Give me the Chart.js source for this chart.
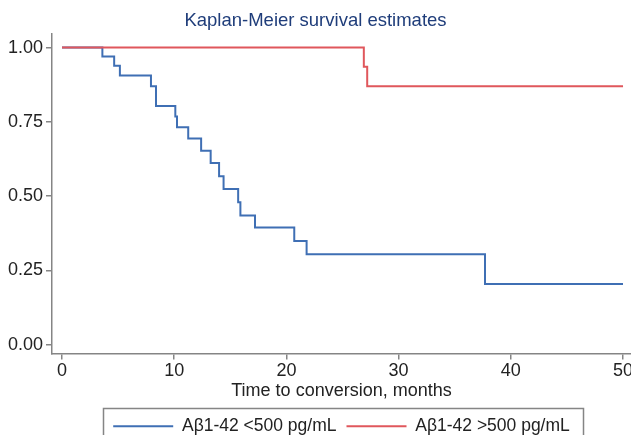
<!DOCTYPE html>
<html>
<head>
<meta charset="utf-8">
<script src="https://cdn.jsdelivr.net/npm/chart.js@4"></script>
<style>
  html, body { margin: 0; padding: 0; background: #fff; }
  #wrap { width: 631px; height: 435px; }
</style>
</head>
<body>
<div id="wrap"><canvas id="km" width="631" height="435"></canvas></div>
<script>
// Kaplan-Meier steps: time of each event (months) and survival after it
var low_time = [0, 3.6, 4.65, 5.16, 7.93, 8.38, 10.1, 10.25, 11.25, 12.4, 13.25, 14.0, 14.4, 15.7, 15.9, 17.2, 20.7, 21.8, 37.7, 50];
var low_surv = [1.0, 0.970, 0.939, 0.906, 0.870, 0.803, 0.768, 0.732, 0.694, 0.653, 0.611, 0.567, 0.524, 0.479, 0.435, 0.394, 0.349, 0.304, 0.204, 0.204];
var high_time = [0, 26.9, 27.2, 50];
var high_surv = [1.0, 0.935, 0.870, 0.870];

var x_ticks = [0, 10, 20, 30, 40, 50];
var y_ticks = [0, 0.25, 0.5, 0.75, 1.0];
var series_labels = ['A\u03b21-42 <500 pg/mL', 'A\u03b21-42 >500 pg/mL'];

var to_points = function(t, s) {
  var pts = [];
  for (var i = 0; i < t.length; i++) {
    pts.push({x: t[i], y: s[i]});
  }
  return pts;
};

var axis_grey = '#858585';
var font_family = '"Liberation Sans", Arial, Helvetica, sans-serif';

// frame around the legend like the stata one
var legend_frame = {
  id: 'legend_frame',
  afterDraw: function(chart) {
    var lg = chart.legend;
    if (!lg || !lg.legendHitBoxes || !lg.legendHitBoxes.length) return;
    var boxes = lg.legendHitBoxes;
    var first = boxes[0];
    var last = boxes[boxes.length - 1];
    var left = first.left - 10.5;
    var right = last.left + last.width + 12.5;
    var ctx = chart.ctx;
    ctx.save();
    ctx.strokeStyle = axis_grey;
    ctx.lineWidth = 1.5;
    ctx.strokeRect(Math.round(left) + 0.5, Math.round(lg.top) + 0.5, Math.round(right - left), 60);
    ctx.restore();
  }
};

var ctx = document.getElementById('km').getContext('2d');
var km_chart = new Chart(ctx, {
  type: 'line',
  data: {
    datasets: [
      {
        label: series_labels[0],
        data: to_points(low_time, low_surv),
        borderColor: '#3f6fb4',
        backgroundColor: '#3f6fb4',
        borderWidth: 2,
        stepped: true,
        pointRadius: 0,
        fill: false,
        order: 1
      },
      {
        label: series_labels[1],
        data: to_points(high_time, high_surv),
        borderColor: '#e0575c',
        backgroundColor: '#e0575c',
        borderWidth: 2,
        stepped: true,
        pointRadius: 0,
        fill: false,
        order: 0
      }
    ]
  },
  options: {
    responsive: false,
    animation: false,
    devicePixelRatio: 1,
    layout: {
      padding: {left: 0, right: 0, top: 0, bottom: -10}
    },
    plugins: {
      title: {
        display: true,
        text: 'Kaplan-Meier survival estimates',
        color: '#1f3d7a',
        font: {family: font_family, size: 18.5, weight: 'normal'},
        padding: {top: 10, bottom: 2}
      },
      legend: {
        display: true,
        position: 'bottom',
        fullSize: false,
        labels: {
          usePointStyle: true,
          pointStyle: 'line',
          pointStyleWidth: 60,
          boxWidth: 60,
          padding: 10,
          color: '#222',
          font: {family: font_family, size: 17.5},
          sort: function(a, b) { return a.datasetIndex - b.datasetIndex; }
        }
      },
      tooltip: {enabled: false}
    },
    scales: {
      x: {
        type: 'linear',
        min: -0.89,
        max: 50.71,
        afterBuildTicks: function(s) {
          s.ticks = x_ticks.map(function(v) { return {value: v}; });
        },
        afterFit: function(s) {
          s.height = 54;
          s.paddingLeft = 0;
          s.paddingRight = 0;
        },
        border: {display: true, color: axis_grey, width: 1.5},
        grid: {drawOnChartArea: false, drawTicks: true, tickLength: 6, color: axis_grey, lineWidth: 1.5},
        ticks: {
          padding: 1,
          color: '#222',
          maxRotation: 0,
          font: {family: font_family, size: 18}
        },
        title: {
          display: true,
          text: 'Time to conversion, months',
          color: '#222',
          font: {family: font_family, size: 18},
          padding: {top: 0, bottom: 6}
        }
      },
      y: {
        type: 'linear',
        min: -0.03,
        max: 1.045,
        afterBuildTicks: function(s) {
          s.ticks = y_ticks.map(function(v) { return {value: v}; });
        },
        afterFit: function(s) {
          s.width = 52;
          s.paddingTop = 0;
          s.paddingBottom = 0;
        },
        border: {display: true, color: axis_grey, width: 1.5},
        grid: {drawOnChartArea: false, drawTicks: true, tickLength: 6, color: axis_grey, lineWidth: 1.5},
        ticks: {
          padding: 3,
          color: '#222',
          font: {family: font_family, size: 18},
          callback: function(v) { return Number(v).toFixed(2); }
        }
      }
    }
  },
  plugins: [legend_frame]
});
</script>
</body>
</html>
